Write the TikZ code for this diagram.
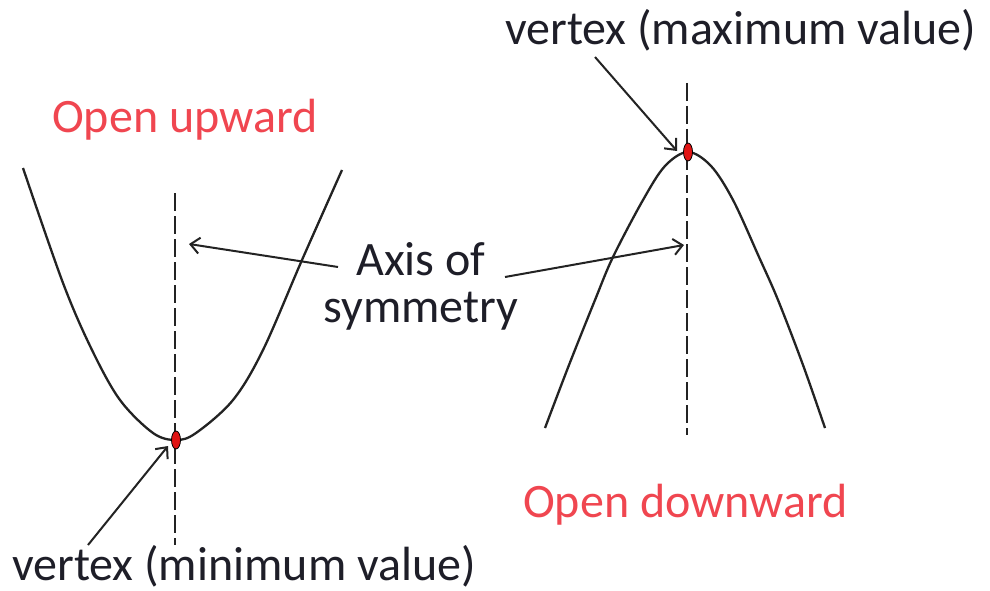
\documentclass[tikz,border=0pt]{standalone}
\usepackage{fontspec}
\setmainfont{Carlito}
\usetikzlibrary{arrows.meta}
\definecolor{ink}{RGB}{35,35,35}
\definecolor{txt}{RGB}{30,30,40}
\definecolor{openred}{RGB}{240,70,80}
\definecolor{dotred}{RGB}{225,20,20}
\begin{document}
\begin{tikzpicture}[x=1pt,y=-1pt,
  curve/.style={draw=ink,line width=2.3pt,line join=round},
  axisline/.style={draw=ink,line width=2.4pt,dash pattern=on 18pt off 5pt},
  pointer/.style={draw=ink,line width=2pt,-{Straight Barb[length=9pt,width=16pt,line width=2pt]}},
  lbl/.style={font=\fontsize{48}{50}\selectfont,text=txt,inner sep=0pt,anchor=base west},
  redlbl/.style={lbl,text=openred},
  vdot/.style={fill=dotred,draw=black,line width=0.8pt}]
\useasboundingbox (0,0) rectangle (990,591);
\fill[white] (0,0) rectangle (990,591);

% ---- left parabola (opens upward)
\coordinate (vL) at (176,440);
\coordinate (aLtop) at (175,193);
\coordinate (aLbot) at (175,545);
\draw[curve] plot[smooth,tension=0.55] coordinates {(23,168) (63,283) (92,350) (120,400) (153,433) (176,440) (196,433) (233,400) (263,350) (302,260) (342,170)};
\draw[axisline] (aLtop) -- (aLbot);

% ---- right parabola (opens downward)
\coordinate (vR) at (688,152);
\coordinate (aRtop) at (687,83);
\coordinate (aRbot) at (687,435);
\draw[curve] plot[smooth,tension=0.55] coordinates {(545,428) (569,365) (595,300) (613,257) (643,200) (665,166) (688,152) (711,166) (733,200) (759,257) (778,300) (803,365) (825,428)};
\draw[axisline] (aRtop) -- (aRbot);

% ---- labels
\node[redlbl] (up) at (52,132) {Open upward};
\node[redlbl] (down) at (523,517) {Open downward};
\node[lbl] (vmax) at (505,45) {vertex (maximum value)};
\node[lbl] (vmin) at (12,580) {vertex (minimum value)};
\node[lbl,anchor=base] (axis1) at (421,275) {Axis of};
\node[lbl,anchor=base] (axis2) at (421,322) {symmetry};

% ---- pointers
\coordinate (pL) at (338,267);
\coordinate (tL) at (189,244);
\coordinate (pR) at (505,277);
\coordinate (tR) at (684,245);
\coordinate (pMin) at (88,545);
\coordinate (tMin) at (168,446);
\coordinate (pMax) at (595,57);
\coordinate (tMax) at (677,151);
\draw[pointer] (pL) -- (tL);
\draw[pointer] (pR) -- (tR);
\draw[pointer] (pMin) -- (tMin);
\draw[pointer] (pMax) -- (tMax);

% ---- vertices
\filldraw[vdot] (vL) ellipse (4.5 and 9);
\filldraw[vdot] (vR) ellipse (4.5 and 9);
\end{tikzpicture}
\end{document}
